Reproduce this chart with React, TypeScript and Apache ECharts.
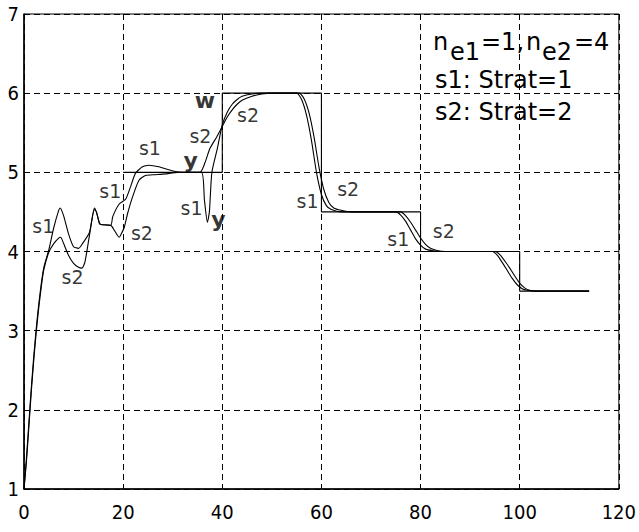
import React, { useEffect, useRef } from "react";
import * as echarts from "echarts";

// Setpoint w (step trajectory)
const wData: number[][] = [
  [20, 5], [40, 5], [40, 6], [60, 6], [60, 4.5], [80, 4.5], [80, 4], [100, 4], [100, 3.5], [114, 3.5],
];

// Output y with strategy 1 (s1)
const s1Data: number[][] = [
  [0, 1.0], [0.5, 1.4], [1, 1.85], [1.5, 2.3], [2, 2.7], [2.5, 3.05], [3, 3.35], [3.5, 3.6], [4, 3.8],
  [5, 4.02], [6, 4.3], [7, 4.52], [7.3, 4.55], [8, 4.45], [9, 4.22], [10, 4.06], [11, 4.04], [11.8, 4.1],
  [13.2, 4.24], [14.2, 4.55], [14.6, 4.5], [15.2, 4.36], [15.5, 4.34], [17.5, 4.33], [17.9, 4.44],
  [19.2, 4.6], [20.5, 4.66], [21.5, 4.82], [22.5, 4.99], [23.9, 5.07], [25.2, 5.09], [27.2, 5.07],
  [29.9, 5.02], [32, 5.0], [35.8, 5.0], [36.4, 4.65], [37, 4.37], [37.4, 4.5], [37.9, 5.0], [39, 5.3],
  [40, 5.6], [41, 5.76], [42, 5.86], [43, 5.92], [44, 5.96], [46, 5.99], [48, 6.0], [55, 6.0],
  [56, 5.92], [57, 5.72], [58, 5.4], [59, 5.0], [60, 4.72], [61, 4.58], [62, 4.53], [64, 4.5],
  [75, 4.5], [76, 4.46], [77, 4.38], [78, 4.27], [79, 4.16], [80, 4.08], [81, 4.03], [82.5, 4.01],
  [84, 4.0], [94.5, 4.0], [95.5, 3.95], [96.5, 3.86], [97.5, 3.76], [98.5, 3.66], [99.5, 3.58],
  [100.5, 3.53], [101.5, 3.51], [103, 3.5], [114, 3.5],
];

// Output y with strategy 2 (s2)
const s2Data: number[][] = [
  [0, 1.0], [0.5, 1.35], [1, 1.8], [1.5, 2.25], [2, 2.65], [2.5, 3.0], [3, 3.3], [3.5, 3.56], [4, 3.77],
  [5, 3.99], [6, 4.1], [7, 4.17], [7.4, 4.18], [8, 4.1], [9, 3.95], [10, 3.85], [11, 3.8], [11.7, 3.79],
  [12.3, 3.87], [13.2, 4.2], [14.2, 4.53], [14.6, 4.5], [15.2, 4.36], [15.5, 4.34], [17.5, 4.33],
  [18.3, 4.26], [19.2, 4.18], [19.6, 4.22], [20.2, 4.3], [20.9, 4.48], [21.9, 4.69], [23.2, 4.9],
  [24.5, 4.96], [26.5, 4.97], [28.5, 4.98], [31, 5.0], [35.5, 5.0], [36.5, 5.12], [37.5, 5.3],
  [38.9, 5.45], [40, 5.58], [41, 5.7], [42, 5.79], [43, 5.86], [44, 5.91], [46, 5.96], [48, 5.99],
  [50, 6.0], [55.5, 6.0], [56.5, 5.93], [57.5, 5.75], [58.5, 5.45], [59.5, 5.07], [60.5, 4.78],
  [61.5, 4.62], [62.5, 4.55], [64, 4.52], [66, 4.5], [76, 4.5], [77, 4.45], [78, 4.37], [79, 4.27],
  [80, 4.17], [81, 4.09], [82, 4.04], [83.5, 4.01], [85, 4.0], [95, 4.0], [96, 3.96], [97, 3.88],
  [98, 3.79], [99, 3.69], [100, 3.6], [101, 3.54], [102, 3.51], [103.5, 3.5], [114, 3.5],
];

// In-plot annotations (text, data x, data y)
const annTexts: string[] = ["w", "s2", "s1", "y", "s2", "s1", "s1", "s2", "s1", "y", "s1", "s2", "s2", "s1", "s2"];
const annX: number[] = [36.5, 45.2, 25.4, 33.6, 35.6, 17.4, 3.9, 23.8, 33.8, 39.2, 57.2, 9.8, 65.4, 75.5, 84.7];
const annY: number[] = [5.91, 5.72, 5.31, 5.15, 5.46, 4.76, 4.32, 4.23, 4.55, 4.4, 4.64, 3.68, 4.79, 4.16, 4.26];

const xMin = 0;
const xMax = 120;
const xStep = 20;
const yMin = 1;
const yMax = 7;
const yStep = 1;

const FONT = "'DejaVu Sans', 'Liberation Sans', sans-serif";
const TICK_FONT = "'DejaVu Sans Condensed', 'Liberation Sans Narrow', 'DejaVu Sans', sans-serif";

export default function App() {
  const ref = useRef<HTMLDivElement>(null);

  useEffect(() => {
    if (!ref.current) return;
    const chart = echarts.init(ref.current, undefined, { renderer: "svg" });

    const annData = annTexts.map((t, i) => ({
      name: t,
      value: [annX[i], annY[i]],
      label: {
        fontSize: t === "w" || t === "y" ? 22 : 19,
        fontWeight: t === "w" || t === "y" ? "bold" : "normal",
      },
    }));

    const lineStyle = { color: "#000", width: 1.1 };

    chart.setOption({
      animation: false,
      backgroundColor: "#fff",
      grid: {
        left: 24,
        right: 16,
        top: 14,
        bottom: 43,
        show: true,
        borderColor: "#000",
        borderWidth: 1,
        backgroundColor: "transparent",
      },
      xAxis: {
        type: "value",
        min: xMin,
        max: xMax,
        interval: xStep,
        axisLine: { show: true, lineStyle: { color: "#000", width: 1.5 } },
        axisTick: { show: false },
        axisLabel: { color: "#000", fontSize: 20, fontFamily: TICK_FONT, margin: 13 },
        splitLine: { show: true, lineStyle: { color: "#000", type: [6, 4], width: 1 } },
      },
      yAxis: {
        type: "value",
        min: yMin,
        max: yMax,
        interval: yStep,
        axisLine: { show: true, lineStyle: { color: "#000", width: 1.5 } },
        axisTick: { show: false },
        axisLabel: { color: "#000", fontSize: 20, fontFamily: TICK_FONT, margin: 5 },
        splitLine: { show: true, lineStyle: { color: "#000", type: [6, 4], width: 1 } },
      },
      series: [
        {
          name: "w",
          type: "line",
          data: wData,
          symbol: "none",
          lineStyle: { color: "#000", width: 1.1 },
          z: 3,
        },
        {
          name: "s1",
          type: "line",
          data: s1Data,
          symbol: "none",
          smooth: 0.2,
          lineStyle,
          z: 4,
        },
        {
          name: "s2",
          type: "line",
          data: s2Data,
          symbol: "none",
          smooth: 0.2,
          lineStyle,
          z: 4,
        },
        {
          name: "annotations",
          type: "scatter",
          data: annData,
          symbolSize: 0,
          silent: true,
          z: 6,
          label: {
            show: true,
            position: "inside",
            formatter: (p: any) => p.name,
            color: "#000",
            fontFamily: FONT,
          },
        },
      ],
      graphic: [
        { type: "text", left: 433, top: 30, style: { text: "n", font: `24px ${FONT}`, fill: "#000" }, z: 10 },
        { type: "text", left: 450, top: 40, style: { text: "e1", font: `24px ${FONT}`, fill: "#000" }, z: 10 },
        { type: "text", left: 481, top: 30, style: { text: "=1,", font: `24px ${FONT}`, fill: "#000" }, z: 10 },
        { type: "text", left: 526, top: 30, style: { text: "n", font: `24px ${FONT}`, fill: "#000" }, z: 10 },
        { type: "text", left: 542, top: 40, style: { text: "e2", font: `24px ${FONT}`, fill: "#000" }, z: 10 },
        { type: "text", left: 574, top: 30, style: { text: "=4", font: `24px ${FONT}`, fill: "#000" }, z: 10 },
        { type: "text", left: 435, top: 68, style: { text: "s1: Strat=1", font: `24px ${FONT}`, fill: "#000" }, z: 10 },
        { type: "text", left: 435, top: 100, style: { text: "s2: Strat=2", font: `24px ${FONT}`, fill: "#000" }, z: 10 },
      ],
    });

    return () => chart.dispose();
  }, []);

  return (
    <div
      ref={ref}
      style={{ position: "fixed", left: 0, top: 0, width: 639, height: 532, background: "#fff" }}
    />
  );
}
